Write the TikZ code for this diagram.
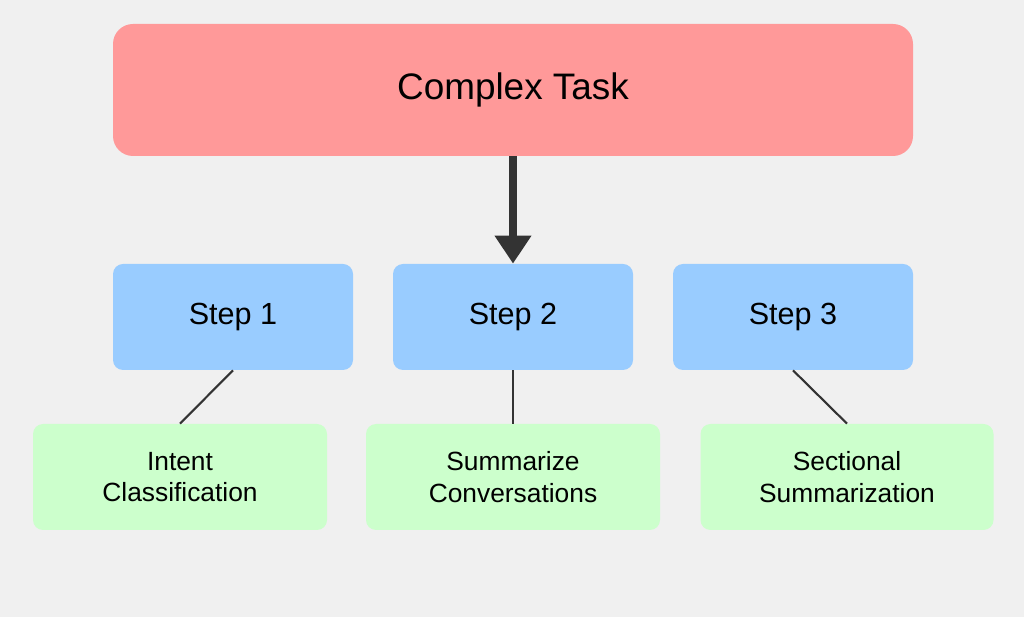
\documentclass[tikz,border=0pt]{standalone}
\usepackage{fontspec}
\setmainfont{Liberation Sans}
\usetikzlibrary{arrows.meta}
\definecolor{bgc}{HTML}{F0F0F0}
\definecolor{redc}{HTML}{FF9999}
\definecolor{bluec}{HTML}{99CCFF}
\definecolor{greenc}{HTML}{CCFFCC}
\definecolor{lnc}{HTML}{333333}
\begin{document}
\begin{tikzpicture}[x=0.02cm,y=-0.02cm,
  mybox/.style={draw=none,minimum height=106*0.02cm,minimum width=240*0.02cm,rounded corners=0.2cm,align=center},
  stepbox/.style={mybox,fill=bluec,font=\fontsize{17.4}{20}\selectfont},
  leafbox/.style={mybox,fill=greenc,minimum width=294*0.02cm,font=\fontsize{15}{18}\selectfont},
  mylink/.style={draw=lnc,line width=1.2pt}]
\fill[bgc] (0,0) rectangle (1024,617);
\useasboundingbox (0,0) rectangle (1024,617);
\node[mybox,fill=redc,minimum width=800*0.02cm,minimum height=132*0.02cm,rounded corners=0.4cm,font=\fontsize{21}{24}\selectfont] (task) at (513,90) {Complex Task};
\node[stepbox] (s1) at (233,317) {Step 1};
\node[stepbox] (s2) at (513,317) {Step 2};
\node[stepbox] (s3) at (793,317) {Step 3};
\node[leafbox] (l1) at (180,477) {Intent\\Classification};
\node[leafbox] (l2) at (513,477) {Summarize\\Conversations};
\node[leafbox,minimum width=293*0.02cm] (l3) at (847,477) {Sectional\\Summarization};
\draw[draw=lnc,line width=4.5pt,-{Triangle[width=20pt,length=16pt]}] (task.south) -- (s2.north);
\draw[mylink] (s1.south) -- (l1.north);
\draw[mylink] (s2.south) -- (l2.north);
\draw[mylink] (s3.south) -- (l3.north);
\end{tikzpicture}
\end{document}
